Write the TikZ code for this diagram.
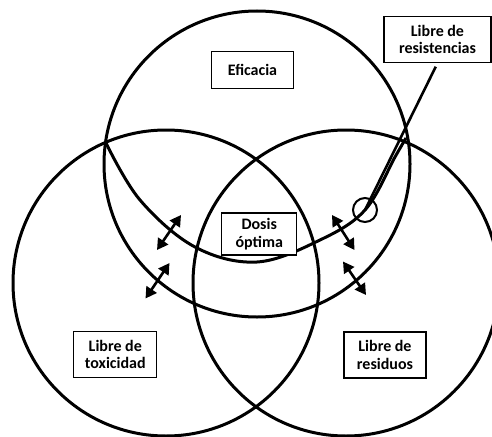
\documentclass[tikz,border=0pt]{standalone}
\usepackage{fontspec}
\setmainfont{Carlito}
\usetikzlibrary{arrows.meta}
\tikzset{
  ring/.style={line width=3pt},
  lbl/.style={draw, line width=1.3pt, fill=white, align=center, inner sep=0pt,
    font=\fontsize{16}{17.8}\selectfont\bfseries},
  dbl/.style={line width=2.6pt, {Triangle[length=11pt,width=12pt]}-{Triangle[length=11pt,width=12pt]}},
}
\begin{document}
\begin{tikzpicture}[x=1pt,y=-1pt]
\useasboundingbox (0,0) rectangle (492,436);
\clip (0,0) rectangle (492,436);
% three main circles
\draw[ring] (257,164) circle[radius=153pt];
\draw[ring] (166,283) circle[radius=153pt];
\draw[ring] (346,283) circle[radius=153pt];
% shifted curve
\draw[ring, line join=round] plot[smooth, tension=0.6] coordinates {(106,143) (140,200) (195,247) (257,262) (320,240) (365,210) (395,157) (406,138)};
% labels
\node[lbl, minimum width=82pt, minimum height=37pt] (efi) at (252.5,70) {Eficacia};
\node[lbl, minimum width=75pt, minimum height=42pt] (dosis) at (259.2,234) {Dosis\\óptima};
\node[lbl, minimum width=83pt, minimum height=46pt] (tox) at (115.3,354.5) {Libre de\\toxicidad};
\node[lbl, minimum width=82pt, minimum height=46pt] (resid) at (385,355) {Libre de\\residuos};
\node[lbl, minimum width=107pt, minimum height=46pt] (resist) at (437.5,39.5) {Libre de\\resistencias};
% ring and leader
\node[draw, circle, line width=2pt, minimum size=24pt, inner sep=0pt] (ringnode) at (365,210) {};
\draw[line width=2.6pt, shorten <=4pt] (resist.south) -- (ringnode.center);
% double arrows
\coordinate (a1) at (157,250); \coordinate (b1) at (181,215);
\coordinate (a2) at (145.5,298.5); \coordinate (b2) at (169.5,263);
\coordinate (a3) at (332,215); \coordinate (b3) at (354.5,250);
\coordinate (a4) at (343,261.5); \coordinate (b4) at (366,295);
\draw[dbl] (a1) -- (b1);
\draw[dbl] (a2) -- (b2);
\draw[dbl] (a3) -- (b3);
\draw[dbl] (a4) -- (b4);
\end{tikzpicture}
\end{document}
